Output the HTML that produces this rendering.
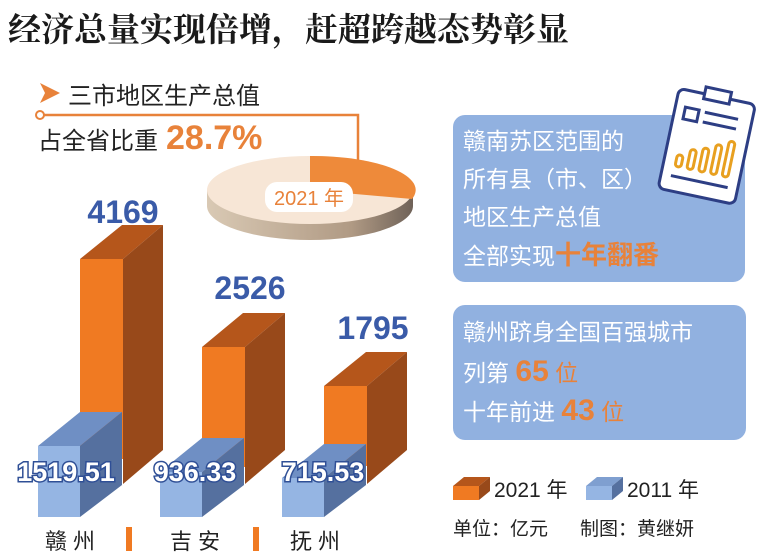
<!DOCTYPE html>
<html><head><meta charset="utf-8"><style>
html,body{margin:0;padding:0;background:#fff;}
svg{display:block;}
text{font-family:"Liberation Sans","Noto Sans CJK SC",sans-serif;}
</style></head><body>
<svg width="768" height="560" viewBox="0 0 768 560" xmlns="http://www.w3.org/2000/svg">
<defs>
<linearGradient id="pie" x1="0" x2="1" y1="0" y2="0">
<stop offset="0" stop-color="#d9c9b4"/><stop offset="0.7" stop-color="#b09a84"/><stop offset="1" stop-color="#6f6258"/>
</linearGradient>
</defs>
<text x="8" y="41" font-size="33" font-weight="bold" fill="#1a1a1a" style="font-family:'Noto Serif CJK SC','Noto Sans CJK SC',serif">经济总量实现倍增，赶超跨越态势彰显</text>

<!-- header -->
<polygon points="40,83 60,93 40,103 45,93" fill="#e8823a"/>
<text x="68" y="104" font-size="24" fill="#222">三市地区生产总值</text>
<circle cx="40" cy="115" r="4" fill="#fff" stroke="#e8823a" stroke-width="2"/>
<polyline points="44,115 358,115 358,172" fill="none" stroke="#e8823a" stroke-width="2.5"/>
<text x="38" y="149" font-size="24" fill="#222">占全省比重</text>
<text x="166" y="149" font-size="34" font-weight="bold" fill="#e8823a">28.7%</text>

<!-- pie -->
<path d="M207,190 L207,206 A103,34 0 0 0 413,206 L413,190 Z" fill="url(#pie)"/>
<ellipse cx="310" cy="190" rx="103" ry="34" fill="#f7e6d6"/>
<path d="M310,190 L310,156 A103,34 0 0 1 412,199 Z" fill="#ee8a3a"/>
<rect x="265" y="182" width="88" height="30" rx="12" fill="#fff"/>
<text x="309" y="205" font-size="20" fill="#e8823a" text-anchor="middle">2021 年</text>

<!-- Ganzhou -->
<polygon points="80,259 122,225 163,225 123,259" fill="#b5561b"/>
<polygon points="123,259 163,225 163,450 123,484" fill="#98491a"/>
<rect x="80" y="259" width="43" height="200" fill="#f07a22"/>
<polygon points="38,446 80,412 122,412 80,446" fill="#6f8fc4"/>
<polygon points="80,446 122,412 122,485 80,517" fill="#55709f"/>
<rect x="38" y="446" width="42" height="71" fill="#95b5e3"/>
<text x="123" y="223" font-size="32" font-weight="bold" fill="#3a5ba8" text-anchor="middle">4169</text>

<!-- Jian -->
<polygon points="202,347 243,313 285,313 245,347" fill="#b5561b"/>
<polygon points="245,347 285,313 285,450 245,484" fill="#98491a"/>
<rect x="202" y="347" width="43" height="120" fill="#f07a22"/>
<polygon points="160,472 202,438 244,438 202,472" fill="#6f8fc4"/>
<polygon points="202,472 244,438 244,485 202,517" fill="#55709f"/>
<rect x="160" y="472" width="42" height="45" fill="#95b5e3"/>
<text x="250" y="299" font-size="32" font-weight="bold" fill="#3a5ba8" text-anchor="middle">2526</text>

<!-- Fuzhou -->
<polygon points="324,386 366,352 407,352 367,386" fill="#b5561b"/>
<polygon points="367,386 407,352 407,450 367,484" fill="#98491a"/>
<rect x="324" y="386" width="43" height="80" fill="#f07a22"/>
<polygon points="282,478 324,444 366,444 324,478" fill="#6f8fc4"/>
<polygon points="324,478 366,444 366,485 324,517" fill="#55709f"/>
<rect x="282" y="478" width="42" height="39" fill="#95b5e3"/>
<text x="373" y="339" font-size="32" font-weight="bold" fill="#3a5ba8" text-anchor="middle">1795</text>

<g font-size="27" font-weight="bold" fill="#fff" stroke="#2f4f96" stroke-width="3" paint-order="stroke" text-anchor="middle">
<text x="66" y="481">1519.51</text>
<text x="195" y="481">936.33</text>
<text x="323" y="481">715.53</text>
</g>

<g font-size="22" fill="#222">
<text x="45" y="549" letter-spacing="6">赣州</text>
<text x="170" y="549" letter-spacing="6">吉安</text>
<text x="290" y="549" letter-spacing="6">抚州</text>
</g>
<rect x="126" y="527" width="6" height="24" fill="#f07a22"/>
<rect x="253" y="527" width="6" height="24" fill="#f07a22"/>

<!-- right box 1 -->
<rect x="453" y="115" width="292" height="167" rx="12" fill="#91b1e0"/>
<g font-size="23" fill="#fff">
<text x="463" y="149">赣南苏区范围的</text>
<text x="463" y="187">所有县（市、区）</text>
<text x="463" y="225">地区生产总值</text>
<text x="463" y="264">全部实现<tspan fill="#e8823a" font-weight="bold" font-size="26">十年翻番</tspan></text>
</g>
<!-- clipboard icon -->
<g transform="rotate(12 705 145)">
<rect x="668" y="95" width="78" height="102" rx="6" fill="#fff" stroke="#2d3e84" stroke-width="3"/>
<rect x="694" y="88" width="26" height="12" fill="#fff" stroke="#2d3e84" stroke-width="3"/>
<rect x="678" y="112" width="14" height="12" fill="none" stroke="#2d3e84" stroke-width="3"/>
<line x1="698" y1="113" x2="732" y2="113" stroke="#2d3e84" stroke-width="3"/>
<line x1="698" y1="123" x2="732" y2="123" stroke="#2d3e84" stroke-width="3"/>
<g fill="none" stroke="#e8a020" stroke-width="3">
<rect x="680" y="160" width="6" height="12" rx="3"/>
<rect x="692" y="152" width="6" height="20" rx="3"/>
<rect x="704" y="148" width="6" height="24" rx="3"/>
<rect x="716" y="142" width="6" height="30" rx="3"/>
<rect x="728" y="136" width="6" height="36" rx="3"/>
</g>
<line x1="678" y1="182" x2="736" y2="182" stroke="#2d3e84" stroke-width="3"/>
</g>

<!-- right box 2 -->
<rect x="453" y="305" width="293" height="135" rx="12" fill="#91b1e0"/>
<g font-size="23" fill="#fff">
<text x="463" y="340">赣州跻身全国百强城市</text>
<text x="463" y="381">列第 <tspan fill="#e8823a" font-weight="bold" font-size="30">65</tspan><tspan fill="#e8823a"> 位</tspan></text>
<text x="463" y="420">十年前进 <tspan fill="#e8823a" font-weight="bold" font-size="30">43</tspan><tspan fill="#e8823a"> 位</tspan></text>
</g>

<!-- legend -->
<polygon points="453,486 464,477 490,477 479,486" fill="#b5561b"/>
<polygon points="479,486 490,477 490,491 479,500" fill="#98491a"/>
<rect x="453" y="486" width="26" height="14" fill="#f07a22"/>
<text x="494" y="497" font-size="21" fill="#222">2021 年</text>
<polygon points="586,486 597,477 623,477 612,486" fill="#7f9fd0"/>
<polygon points="612,486 623,477 623,491 612,500" fill="#55709f"/>
<rect x="586" y="486" width="26" height="14" fill="#95b5e3"/>
<text x="627" y="497" font-size="21" fill="#222">2011 年</text>

<text x="453" y="535" font-size="19" fill="#222">单位：亿元</text>
<text x="580" y="535" font-size="19" fill="#222">制图：黄继妍</text>
</svg>
</body></html>
